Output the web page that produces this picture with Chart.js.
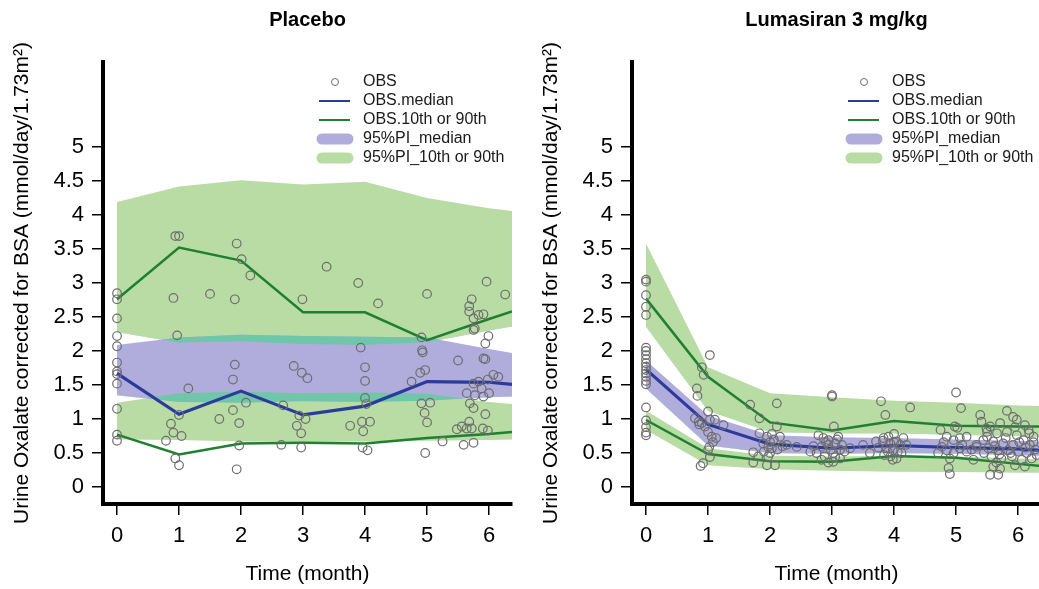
<!DOCTYPE html>
<html lang="en">

<head>
    <meta charset="UTF-8">
    <title>Urine oxalate VPC</title>
    <script src="https://cdn.jsdelivr.net/npm/chart.js@4.4.1/dist/chart.umd.min.js"></script>
    <style>
        body { margin: 0; background: #fff; overflow: hidden; }
        .janela { position: relative; width: 1039px; height: 589px; overflow: hidden; }
        .painel { position: absolute; top: 0; width: 520px; height: 589px; }
    </style>
</head>

<body>
    <div class="janela">
        <div class="painel" style="left: 0px;"><canvas id="grafico_placebo" width="520" height="589"></canvas></div>
        <div class="painel" style="left: 529px;"><canvas id="grafico_luma" width="520" height="589"></canvas></div>
    </div>

<script>
    // eixos
    var xTicks = [0, 1, 2, 3, 4, 5, 6];
    var yTicks = [0, 0.5, 1, 1.5, 2, 2.5, 3, 3.5, 4, 4.5, 5];
    var legendLabels = ['OBS', 'OBS.median', 'OBS.10th or 90th', '95%PI_median', '95%PI_10th or 90th'];

    // ---------- Placebo ----------
    var plcTime = [0, 1, 2, 3, 4, 5, 6, 6.37];
    var plcMedian = [1.67, 1.07, 1.41, 1.06, 1.19, 1.55, 1.54, 1.51];
    var plcP90 = [2.76, 3.52, 3.33, 2.57, 2.57, 2.16, 2.47, 2.58];
    var plcP10 = [0.77, 0.48, 0.64, 0.65, 0.64, 0.72, 0.78, 0.81];

    var plcPiMedHi = [2.09, 2.20, 2.24, 2.22, 2.21, 2.20, 2.03, 1.97];
    var plcPiMedLo = [1.35, 1.25, 1.24, 1.26, 1.25, 1.27, 1.32, 1.33];
    var plcPi90Hi = [4.19, 4.42, 4.51, 4.45, 4.49, 4.25, 4.10, 4.06];
    var plcPi90Lo = [2.28, 2.12, 2.14, 2.10, 2.09, 2.13, 2.30, 2.36];
    var plcPi10Hi = [1.24, 1.38, 1.40, 1.38, 1.39, 1.37, 1.25, 1.22];
    var plcPi10Lo = [0.70, 0.69, 0.67, 0.66, 0.67, 0.68, 0.69, 0.70];

    var plcObsTime = [
        0, 0, 0, 0, 0, 0, 0, 0, 0, 0, 0, 0,
        0.94, 1.0, 0.91, 0.97, 1.15, 1.0, 0.87, 0.91, 1.04, 0.79, 0.94, 1.0, 1.5, 1.65,
        1.93, 2.01, 2.15, 1.9, 1.9, 1.87, 2.08, 1.87, 1.97, 1.97, 1.93, 2.65, 2.68,
        2.85, 2.98, 3.07, 2.99, 2.9, 2.97, 2.94, 3.04, 2.97, 3.38,
        3.89, 4.21, 3.93, 4.0, 4.0, 4.0, 4.02, 3.76, 3.95, 4.08, 3.97, 3.96, 4.04,
        5.0, 4.91, 4.92, 4.93, 4.75, 4.89, 4.97, 4.91, 5.05, 4.96, 5.0, 4.97, 5.25,
        5.96, 6.26, 5.72, 5.68, 5.68, 5.75, 5.83, 5.91, 5.77, 5.75, 5.99, 5.94, 5.5, 5.91, 5.94,
        5.98, 6.07, 6.15, 5.75, 5.83, 5.88, 5.64, 5.77, 5.91, 6.0, 5.69, 5.75, 5.94,
        5.48, 5.56, 5.64, 5.68, 5.72, 5.9, 5.98, 5.59, 5.75
    ];
    var plcObsValue = [
        2.85, 2.76, 2.48, 2.22, 2.07, 1.83, 1.70, 1.66, 1.52, 1.15, 0.77, 0.68,
        3.69, 3.69, 2.78, 2.23, 1.45, 1.06, 0.93, 0.80, 0.75, 0.68, 0.42, 0.32, 2.84, 1.00,
        3.58, 3.35, 3.11, 2.76, 1.80, 1.58, 1.24, 1.13, 0.94, 0.61, 0.26, 0.62, 1.20,
        1.78, 1.68, 1.60, 2.76, 0.90, 0.79, 1.05, 1.00, 0.58, 3.24,
        3.00, 2.70, 2.05, 1.76, 1.56, 1.31, 1.22, 0.90, 0.96, 0.96, 0.82, 0.58, 0.54,
        2.84, 2.20, 2.01, 1.98, 1.55, 1.68, 1.72, 1.23, 1.24, 1.09, 0.95, 0.50, 0.67,
        3.02, 2.83, 2.76, 2.66, 2.58, 2.48, 2.53, 2.54, 2.33, 2.31, 2.22, 2.11, 1.86, 1.89, 1.88,
        1.58, 1.65, 1.62, 1.52, 1.55, 1.45, 1.38, 1.35, 1.33, 1.38, 1.23, 1.16, 1.07,
        0.85, 0.89, 0.86, 0.96, 0.86, 0.86, 0.83, 0.62, 0.65
    ];

    // ---------- Lumasiran 3 mg/kg ----------
    var lumTime = [0, 1, 2, 3, 4, 5, 6, 6.37];
    var lumMedian = [1.73, 0.92, 0.63, 0.57, 0.61, 0.58, 0.56, 0.54];
    var lumP90 = [2.77, 1.62, 0.95, 0.83, 0.97, 0.90, 0.89, 0.89];
    var lumP10 = [0.985, 0.485, 0.38, 0.37, 0.455, 0.43, 0.34, 0.31];

    var lumPiMedHi = [1.86, 1.05, 0.76, 0.73, 0.72, 0.70, 0.68, 0.67];
    var lumPiMedLo = [1.45, 0.61, 0.50, 0.49, 0.50, 0.49, 0.47, 0.46];
    var lumPi90Hi = [3.58, 1.76, 1.38, 1.32, 1.27, 1.24, 1.20, 1.19];
    var lumPi90Lo = [2.36, 1.12, 0.81, 0.79, 0.79, 0.77, 0.75, 0.74];
    var lumPi10Hi = [1.12, 0.57, 0.46, 0.45, 0.46, 0.45, 0.42, 0.40];
    var lumPi10Lo = [0.84, 0.32, 0.26, 0.24, 0.225, 0.22, 0.21, 0.21];

    var lumObsTime = [
        0, 0, 0, 0, 0, 0, 0, 0, 0, 0, 0, 0, 0, 0, 0, 0, 0, 0, 0, 0, 0,
        1.03, 0.9, 0.93, 0.82, 0.83, 1.0, 1.03, 1.25, 1.11, 0.79, 0.85, 0.9, 0.95, 1.0, 1.06, 1.13,
        1.02, 1.0, 1.03, 0.92, 0.88, 0.86, 1.08,
        1.68, 2.11, 1.83, 2.11, 1.83, 1.95, 2.03, 2.06, 1.89, 1.97, 2.03, 1.73, 1.81, 1.97, 2.0,
        1.73, 1.95, 2.08, 2.27, 2.43, 2.16, 2.0, 2.12, 1.9, 2.2,
        3.0, 3.0, 3.03, 2.78, 2.86, 3.1, 2.94, 2.65, 2.75, 2.83, 2.94, 3.05, 3.16, 3.29,
        2.83, 2.94, 3.02, 3.13, 3.02, 3.13, 3.5, 2.9, 3.08, 2.7, 3.2, 2.88, 3.05, 2.98,
        3.79, 3.86, 4.26, 4.0, 3.71, 3.83, 3.91, 3.94, 4.04, 4.1, 3.87, 3.98, 4.06, 3.84,
        3.94, 4.04, 3.98, 3.61, 4.2, 3.75, 3.9, 4.12, 3.82, 4.0, 4.15,
        5.0, 5.08, 4.98, 5.02, 4.75, 4.85, 4.96, 5.06, 5.17, 4.77, 4.85, 4.96, 5.06, 5.17,
        4.71, 4.9, 4.88, 4.9, 5.28, 5.33, 4.8, 5.1, 5.25,
        5.39, 5.41, 5.82, 5.92, 5.98, 6.11, 6.17, 5.71, 5.55, 5.5, 5.66, 5.82, 5.98, 6.09,
        5.44, 5.6, 5.76, 5.92, 6.19, 5.33, 5.52, 5.68, 5.84, 6.0, 6.14, 5.57, 5.73, 5.9,
        6.06, 6.22, 5.6, 5.71, 5.95, 6.11, 5.55, 5.68, 5.49, 6.28, 6.3, 6.25, 6.18,
        5.45, 5.62, 5.8, 6.02, 6.12, 5.88, 5.7, 6.25, 5.5, 5.95, 5.65
    ];
    var lumObsValue = [
        3.05, 3.02, 2.82, 2.65, 2.53, 2.05, 2.00, 1.94, 1.88, 1.82, 1.77, 1.72, 1.67, 1.62, 1.56, 1.51, 1.17, 0.98, 0.88, 0.80, 0.76,
        1.94, 1.76, 1.65, 1.45, 1.34, 1.11, 0.99, 0.91, 0.99, 1.01, 0.96, 0.94, 0.89, 0.81, 0.74, 0.72,
        0.59, 0.54, 0.44, 0.35, 0.31, 0.92, 0.66,
        1.21, 1.23, 1.01, 0.89, 0.79, 0.74, 0.78, 0.70, 0.64, 0.59, 0.57, 0.51, 0.45, 0.45, 0.50,
        0.36, 0.32, 0.32, 0.62, 0.59, 0.74, 0.66, 0.55, 0.52, 0.60,
        1.35, 1.33, 0.89, 0.76, 0.72, 0.74, 0.69, 0.52, 0.50, 0.59, 0.62, 0.64, 0.62, 0.57,
        0.40, 0.36, 0.37, 0.42, 0.50, 0.55, 0.62, 0.66, 0.70, 0.60, 0.52, 0.45, 0.44, 0.55,
        1.26, 1.06, 1.17, 0.78, 0.67, 0.72, 0.74, 0.64, 0.67, 0.62, 0.57, 0.54, 0.52, 0.47,
        0.45, 0.42, 0.40, 0.50, 0.62, 0.58, 0.52, 0.50, 0.68, 0.66, 0.72,
        1.39, 1.16, 0.89, 0.87, 0.84, 0.74, 0.69, 0.72, 0.74, 0.59, 0.54, 0.50, 0.57, 0.52,
        0.50, 0.42, 0.28, 0.19, 0.40, 0.62, 0.66, 0.62, 0.55,
        1.06, 0.96, 1.12, 1.03, 0.99, 0.91, 0.84, 0.94, 0.89, 0.81, 0.79, 0.81, 0.76, 0.69,
        0.69, 0.67, 0.64, 0.62, 0.62, 0.59, 0.57, 0.54, 0.54, 0.52, 0.50, 0.45, 0.42, 0.45,
        0.40, 0.42, 0.30, 0.27, 0.32, 0.30, 0.18, 0.18, 0.86, 0.55, 0.47, 0.66, 0.79,
        0.50, 0.60, 0.72, 0.66, 0.58, 0.50, 0.48, 0.74, 0.74, 0.88, 0.36
    ];

    // cores
    var corBandaVerde = '#b8dca4';
    var corBandaLilas = '#b0acdc';
    var corSobreposicao = '#70c6a8';
    var corMediana = '#2c3a9c';
    var corPercentil = '#1e8030';
    var corObs = '#6e6e6e';
    var fonte = '"Liberation Sans", Arial, Helvetica, sans-serif';

    function juntar(tempos, valores) {
        return tempos.map(function (t, i) { return { x: t, y: valores[i] }; });
    }

    // borda de banda (sem linha, so serve de limite para o preenchimento)
    function borda(tempos, valores, fill) {
        return {
            type: 'line',
            data: juntar(tempos, valores),
            borderWidth: 0,
            borderColor: 'transparent',
            pointRadius: 0,
            tension: 0,
            fill: fill
        };
    }

    // legenda desenhada dentro da area do grafico, no canto de cima
    const legendaObs = {
        id: 'legendaObs',
        afterDraw(chart) {
            const ctx = chart.ctx;
            const a = chart.chartArea;
            const x0 = a.left + 213;
            const y0 = a.top + 20;
            ctx.save();
            ctx.font = '16px ' + fonte;
            ctx.textBaseline = 'middle';
            ctx.textAlign = 'left';
            legendLabels.forEach(function (texto, i) {
                const y = y0 + i * 19;
                if (i == 0) {
                    ctx.strokeStyle = corObs;
                    ctx.lineWidth = 1;
                    ctx.beginPath();
                    ctx.arc(x0 + 19, y, 3.5, 0, Math.PI * 2);
                    ctx.stroke();
                } else if (i == 1 || i == 2) {
                    ctx.strokeStyle = i == 1 ? corMediana : corPercentil;
                    ctx.lineWidth = 2;
                    ctx.lineCap = 'butt';
                    ctx.beginPath();
                    ctx.moveTo(x0 + 3, y);
                    ctx.lineTo(x0 + 34, y);
                    ctx.stroke();
                } else {
                    ctx.strokeStyle = i == 3 ? corBandaLilas : corBandaVerde;
                    ctx.lineWidth = 11;
                    ctx.lineCap = 'round';
                    ctx.beginPath();
                    ctx.moveTo(x0 + 6, y);
                    ctx.lineTo(x0 + 32, y);
                    ctx.stroke();
                }
                ctx.fillStyle = '#1a1a1a';
                ctx.fillText(texto, a.left + 260, y);
            });
            ctx.restore();
        }
    };

    function plotarGrafico(idCanvas, titulo, t, mediana, p90, p10, piMedHi, piMedLo, pi90Hi, pi90Lo, pi10Hi, pi10Lo, obsT, obsV) {
        // ordem importa: o indice 0 fica por cima
        const datasets = [
            {
                type: 'scatter',
                data: juntar(obsT, obsV),
                pointRadius: 4.3,
                pointStyle: 'circle',
                borderColor: corObs,
                backgroundColor: 'transparent',
                pointBorderWidth: 1.2
            },
            { type: 'line', data: juntar(t, mediana), borderColor: corMediana, borderWidth: 3.2, pointRadius: 0, tension: 0, fill: false },
            { type: 'line', data: juntar(t, p90), borderColor: corPercentil, borderWidth: 2.5, pointRadius: 0, tension: 0, fill: false },
            { type: 'line', data: juntar(t, p10), borderColor: corPercentil, borderWidth: 2.5, pointRadius: 0, tension: 0, fill: false },
            // sobreposicao das bandas (verde + lilas)
            borda(t, piMedHi, { target: 9, above: corSobreposicao, below: 'transparent' }),
            borda(t, pi10Hi, { target: 7, above: corSobreposicao, below: 'transparent' }),
            borda(t, piMedHi, { target: '+1', above: corBandaLilas, below: corBandaLilas }),
            borda(t, piMedLo, false),
            borda(t, pi90Hi, { target: '+1', above: corBandaVerde, below: corBandaVerde }),
            borda(t, pi90Lo, false),
            borda(t, pi10Hi, { target: '+1', above: corBandaVerde, below: corBandaVerde }),
            borda(t, pi10Lo, false)
        ];

        const ctx = document.getElementById(idCanvas).getContext('2d');
        return new Chart(ctx, {
            type: 'line',
            data: { datasets: datasets },
            plugins: [legendaObs],
            options: {
                responsive: false,
                animation: false,
                events: [],
                layout: { padding: { left: 0, right: 8, top: 0, bottom: 0 } },
                plugins: {
                    legend: { display: false },
                    tooltip: { enabled: false },
                    filler: { drawTime: 'beforeDatasetsDraw' },
                    title: {
                        display: true,
                        text: titulo,
                        fullSize: false,
                        color: '#000',
                        font: { family: fonte, size: 20, weight: 'bold' },
                        padding: { top: 8, bottom: 30 }
                    }
                },
                scales: {
                    x: {
                        type: 'linear',
                        min: -0.226,
                        max: 6.37,
                        afterBuildTicks: function (scale) {
                            scale.ticks = xTicks.map(function (v) { return { value: v }; });
                        },
                        afterFit: function (scale) { scale.height = 85; },
                        ticks: {
                            color: '#000',
                            padding: 8,
                            autoSkip: false,
                            maxRotation: 0,
                            font: { family: fonte, size: 22 },
                            callback: function (v) { return String(v); }
                        },
                        grid: { drawOnChartArea: false, drawTicks: true, tickLength: 11, color: '#000', lineWidth: 1.5 },
                        border: { display: true, color: '#000', width: 4 },
                        title: {
                            display: true,
                            text: 'Time (month)',
                            color: '#000',
                            font: { family: fonte, size: 21 },
                            padding: { top: 0, bottom: 2 }
                        }
                    },
                    y: {
                        min: -0.25,
                        max: 6.25,
                        afterBuildTicks: function (scale) {
                            scale.ticks = yTicks.map(function (v) { return { value: v }; });
                        },
                        afterFit: function (scale) { scale.width = 103; },
                        ticks: {
                            color: '#000',
                            padding: 8,
                            autoSkip: false,
                            font: { family: fonte, size: 22 },
                            callback: function (v) { return String(v); }
                        },
                        grid: { drawOnChartArea: false, drawTicks: true, tickLength: 11, color: '#000', lineWidth: 1.5 },
                        border: { display: true, color: '#000', width: 4 },
                        title: {
                            display: true,
                            text: 'Urine Oxalate corrected for BSA (mmol/day/1.73m²)',
                            color: '#000',
                            font: { family: fonte, size: 21 },
                            padding: { top: 10, bottom: 0 }
                        }
                    }
                }
            }
        });
    }

    plotarGrafico('grafico_placebo', 'Placebo', plcTime, plcMedian, plcP90, plcP10,
        plcPiMedHi, plcPiMedLo, plcPi90Hi, plcPi90Lo, plcPi10Hi, plcPi10Lo, plcObsTime, plcObsValue);

    plotarGrafico('grafico_luma', 'Lumasiran 3 mg/kg', lumTime, lumMedian, lumP90, lumP10,
        lumPiMedHi, lumPiMedLo, lumPi90Hi, lumPi90Lo, lumPi10Hi, lumPi10Lo, lumObsTime, lumObsValue);
</script>
</body>

</html>
